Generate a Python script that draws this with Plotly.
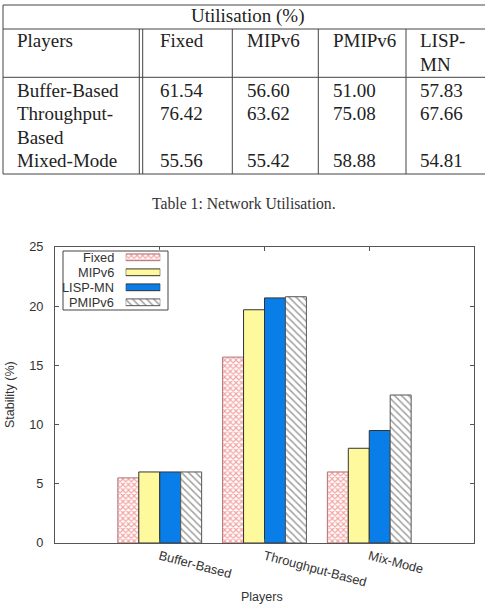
import plotly.graph_objects as go

W, H = 485, 609

# ---------------- data ----------------
table_title = "Utilisation (%)"
table_header = ["Players", "Fixed", "MIPv6", "PMIPv6", "LISP-\nMN"]
table_players = ["Buffer-Based", "Throughput-\nBased", "Mixed-Mode"]
util_fixed = [61.54, 76.42, 55.56]
util_mipv6 = [56.60, 63.62, 55.42]
util_pmipv6 = [51.00, 75.08, 58.88]
util_lispmn = [57.83, 67.66, 54.81]
table_caption = "Table 1: Network Utilisation."

categories = ["Buffer-Based", "Throughput-Based", "Mix-Mode"]
series_names = ["Fixed", "MIPv6", "LISP-MN", "PMIPv6"]
stab_fixed = [5.5, 15.7, 6.0]
stab_mipv6 = [6.0, 19.7, 8.0]
stab_lispmn = [6.0, 20.7, 9.5]
stab_pmipv6 = [6.0, 20.8, 12.5]
y_label = "Stability (%)"
x_label = "Players"

# ---------------- helpers ----------------
def px(x):
    return x / W

def py(y):
    return 1 - y / H

SERIF = "Liberation Serif"
SANS = "Liberation Sans"
TXT = "#222222"
AX = "#555555"

shapes = []
annotations = []

def hline(x0, x1, y, color="#444444", w=1):
    shapes.append(dict(type="line", xref="paper", yref="paper",
                       x0=px(x0), x1=px(x1), y0=py(y), y1=py(y),
                       line=dict(color=color, width=w)))

def vline(x, y0, y1, color="#444444", w=1):
    shapes.append(dict(type="line", xref="paper", yref="paper",
                       x0=px(x), x1=px(x), y0=py(y0), y1=py(y1),
                       line=dict(color=color, width=w)))

def text(x, y_base, s, size=19, anchor="left", font=SERIF, color=TXT):
    annotations.append(dict(xref="paper", yref="paper", x=px(x), y=py(y_base - 0.31 * size),
                            text=s, showarrow=False, xanchor=anchor, yanchor="middle",
                            font=dict(family=font, size=size, color=color)))

# ---------------- table ----------------
T_LEFT, T_RIGHT = 3, 490
T_TOP, T_HEAD, T_HEAD2, T_BOT = 5, 29, 77.3, 174
hline(T_LEFT, T_RIGHT, T_TOP)
hline(T_LEFT, T_RIGHT, T_HEAD)
hline(T_LEFT, T_RIGHT, T_HEAD2)
hline(T_LEFT, T_RIGHT, T_BOT)
vline(T_LEFT, T_TOP, T_BOT)
for xv in [139.3, 142.7, 232.3, 318.3, 406]:
    vline(xv, T_HEAD, T_BOT)

text(247.5, 22, table_title, anchor="center")
col_x = [15, 157.7, 245, 331, 417.7]
LS = 23.6
for cx, h in zip(col_x, table_header):
    for k, line in enumerate(h.split("\n")):
        text(cx, 46.7 + k * LS, line)

cols = [util_fixed, util_mipv6, util_pmipv6, util_lispmn]
base = 96
for r, name in enumerate(table_players):
    lines = name.split("\n")
    for k, line in enumerate(lines):
        text(col_x[0], base + k * LS, line)
    for c, vals in enumerate(cols):
        text(col_x[c + 1], base, f"{vals[r]:.2f}")
    base += len(lines) * LS

text(244, 208, table_caption, size=15.7, anchor="center", color="#333333")

# ---------------- chart ----------------
PL, PR, PT, PB = 55, 474, 247, 543

styles = {
    "Fixed": dict(color="white", line=dict(color="#b07070", width=1),
                  pattern=dict(shape="x", fgcolor="#e84848", bgcolor="white", size=4, solidity=0.5)),
    "MIPv6": dict(color="#fdf99c", line=dict(color="#333333", width=1)),
    "LISP-MN": dict(color="#0a7ee8", line=dict(color="#333333", width=1)),
    "PMIPv6": dict(color="white", line=dict(color="#555555", width=1),
                   pattern=dict(shape="\\", fgcolor="#444444", bgcolor="white", size=5, solidity=0.3)),
}
series_vals = {"Fixed": stab_fixed, "MIPv6": stab_mipv6, "LISP-MN": stab_lispmn, "PMIPv6": stab_pmipv6}

fig = go.Figure()
for name in series_names:
    fig.add_trace(go.Bar(x=categories, y=series_vals[name], name=name, marker=styles[name],
                         showlegend=False, xaxis="x", yaxis="y"))

# legend swatches on auxiliary axes
for i, name in enumerate(series_names):
    fig.add_trace(go.Bar(x=[1], y=[i], orientation="h", marker=styles[name], width=0.45,
                         offset=-0.225, showlegend=False, xaxis="x2", yaxis="y2", hoverinfo="skip"))
    annotations.append(dict(xref="paper", yref="y2", x=px(116), y=i, text=name, showarrow=False,
                            xanchor="right", yanchor="middle",
                            font=dict(family=SANS, size=12.8, color="#333333")))

shapes.append(dict(type="rect", xref="paper", yref="paper", x0=px(63), x1=px(168),
                   y0=py(310), y1=py(251), line=dict(color="#444444", width=1)))

annotations.append(dict(xref="paper", yref="paper", x=px(10), y=py((PT + PB) / 2), text=y_label,
                        textangle=-90, showarrow=False, xanchor="center", yanchor="middle",
                        font=dict(family=SANS, size=12.5, color="#333333")))
annotations.append(dict(xref="paper", yref="paper", x=px(262), y=py(597), text=x_label,
                        showarrow=False, xanchor="center", yanchor="middle",
                        font=dict(family=SANS, size=12.5, color="#333333")))

fig.update_layout(
    width=W, height=H, margin=dict(l=0, r=0, t=0, b=0, pad=0, autoexpand=False),
    paper_bgcolor="white", plot_bgcolor="white", showlegend=False,
    barmode="group", bargap=0.2, bargroupgap=0,
    shapes=shapes, annotations=annotations,
    xaxis=dict(domain=[px(PL), px(PR)], type="category", range=[-1, 3],
               showline=True, linecolor=AX, linewidth=1, mirror="ticks",
               ticks="inside", ticklen=4, tickcolor=AX, tickangle=15, automargin=False,
               tickfont=dict(family=SANS, size=12.8, color="#333333"),
               showgrid=False, zeroline=False, anchor="y"),
    yaxis=dict(domain=[py(PB), py(PT)], range=[0, 25], dtick=5, automargin=False,
               showline=True, linecolor=AX, linewidth=1, mirror="ticks",
               ticks="inside", ticklen=4, tickcolor=AX, ticklabelstandoff=8,
               tickfont=dict(family=SANS, size=12.8, color="#333333"),
               showgrid=False, zeroline=False, anchor="x"),
    xaxis2=dict(domain=[px(125.7), px(160.3)], range=[0, 1], visible=False, anchor="y2"),
    yaxis2=dict(domain=[py(309.8), py(249.8)], range=[3.5, -0.5], visible=False, anchor="x2"),
)

fig.write_html("out.html")
